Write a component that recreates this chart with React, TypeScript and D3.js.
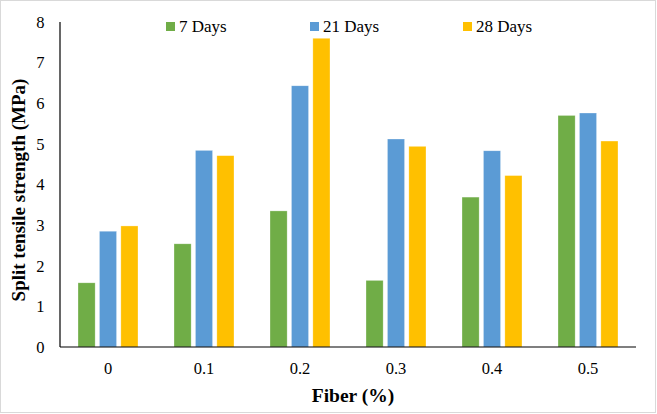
import React from 'react';
import * as d3 from 'd3';

const categories = ['0', '0.1', '0.2', '0.3', '0.4', '0.5'];
const seriesNames = ['7 Days', '21 Days', '28 Days'];
const days7 = [1.58, 2.54, 3.35, 1.64, 3.69, 5.70];
const days21 = [2.85, 4.84, 6.43, 5.12, 4.83, 5.76];
const days28 = [2.98, 4.71, 7.60, 4.94, 4.22, 5.07];
const yTicks = [0, 1, 2, 3, 4, 5, 6, 7, 8];
const colors = ['#70AD47', '#5B9BD5', '#FFC000'];

const width = 657;
const height = 414;
const margin = { top: 22, right: 21, bottom: 67, left: 60 };
const font = '"Liberation Serif", "Times New Roman", serif';

const App: React.FC = () => {
  const series = [days7, days21, days28];

  const x0 = d3.scaleBand<string>()
    .domain(categories)
    .range([margin.left, width - margin.right])
    .paddingInner(0.375)
    .paddingOuter(0.1875);

  const x1 = d3.scaleBand<string>()
    .domain(seriesNames)
    .range([0, x0.bandwidth()])
    .paddingInner(0.2);

  const y = d3.scaleLinear()
    .domain([0, 8])
    .range([height - margin.bottom, margin.top]);

  const baseY = y(0);

  // legend positions (x of square)
  const legendX = [166, 310, 463];

  return (
    <svg width={width} height={height} style={{ position: 'absolute', left: 0, top: 0 }} fontFamily={font}>
      <rect x={0.5} y={0.5} width={width - 2} height={height - 2} fill="#fff" stroke="#d9d9d9" />

      {/* bars */}
      {categories.map((c, i) => (
        <g key={c} transform={`translate(${x0(c)},0)`}>
          {seriesNames.map((s, j) => (
            <rect
              key={s}
              x={x1(s)}
              y={y(series[j][i])}
              width={x1.bandwidth()}
              height={baseY - y(series[j][i])}
              fill={colors[j]}
              stroke="#fff"
              strokeOpacity={0.5}
              strokeWidth={0.6}
            />
          ))}
        </g>
      ))}

      {/* axes */}
      <line x1={margin.left} x2={margin.left} y1={margin.top} y2={baseY} stroke="#000" strokeWidth={1.2} />
      <line x1={margin.left} x2={width - margin.right} y1={baseY} y2={baseY} stroke="#000" strokeWidth={1.2} />

      {yTicks.map(t => (
        <text key={t} x={44.5} y={y(t)} dy="0.35em" textAnchor="end" fontSize={16.5} fill="#000">{t}</text>
      ))}

      {categories.map(c => (
        <text key={c} x={(x0(c) ?? 0) + x0.bandwidth() / 2} y={374} textAnchor="middle" fontSize={16.5} fill="#000">{c}</text>
      ))}

      {/* titles */}
      <text x={353} y={402} textAnchor="middle" fontSize={19.5} fontWeight="bold" fill="#000">Fiber (%)</text>
      <text transform={`translate(25,190) rotate(-90)`} textAnchor="middle" fontSize={19} fontWeight="bold" fill="#000">
        Split tensile strength (MPa)
      </text>

      {/* legend */}
      {seriesNames.map((s, j) => (
        <g key={s}>
          <rect x={legendX[j]} y={22} width={9} height={9} fill={colors[j]} />
          <text x={legendX[j] + 13} y={32} fontSize={17} fill="#000">{s}</text>
        </g>
      ))}
    </svg>
  );
};

export default App;
